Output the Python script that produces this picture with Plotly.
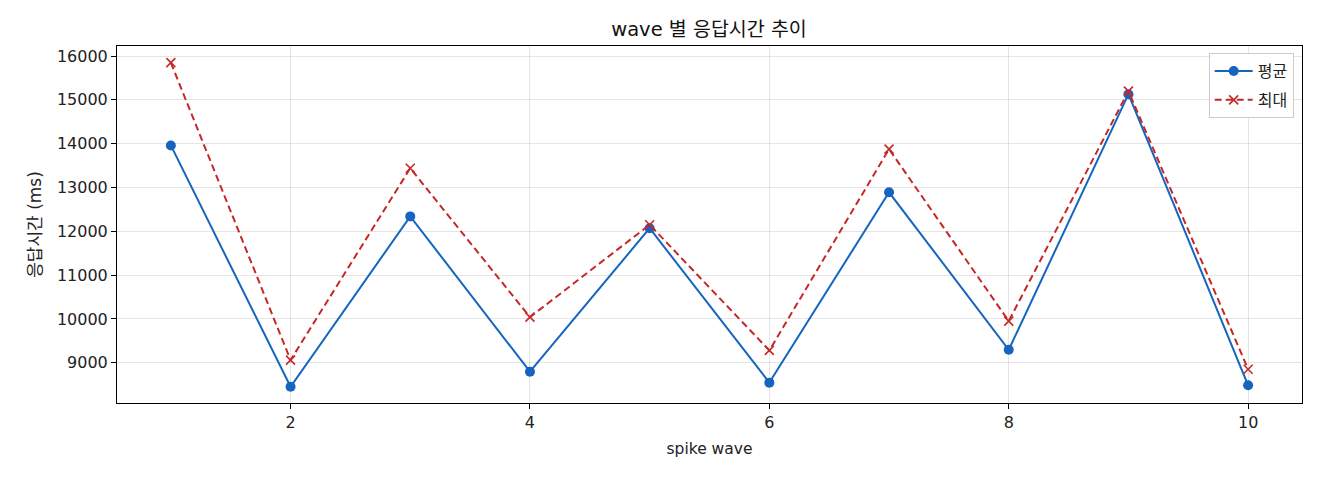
import plotly.graph_objects as go

waves = [1, 2, 3, 4, 5, 6, 7, 8, 9, 10]
avg_ms = [13960, 8450, 12340, 8795, 12070, 8545, 12890, 9295, 15130, 8485]
max_ms = [15850, 9060, 13440, 10040, 12150, 9280, 13875, 9950, 15200, 8850]
x_ticks = [2, 4, 6, 8, 10]
y_ticks = [9000, 10000, 11000, 12000, 13000, 14000, 15000, 16000]

FONT = "DejaVu Sans, Noto Sans CJK KR, sans-serif"
BLUE = "#1565C0"
RED = "#C62828"

fig = go.Figure()
fig.add_trace(go.Scatter(
    x=waves, y=avg_ms, name="평균", mode="lines+markers", legendgroup="avg",
    line=dict(color=BLUE, width=2),
    marker=dict(symbol="circle", size=10, color=BLUE),
))
fig.add_trace(go.Scatter(
    x=waves, y=max_ms, name="최대", mode="lines+markers", legendgroup="max",
    line=dict(color=RED, width=2, dash="7px,4px"),
    marker=dict(symbol="x-thin", size=9, color=RED, line=dict(color=RED, width=1.6)),
))

fig.update_layout(
    width=1320, height=480,
    margin=dict(l=109, r=26, t=38, b=85),
    paper_bgcolor="white", plot_bgcolor="white",
    font=dict(family=FONT, size=15, color="#222222"),
    title=dict(text="wave 별 응답시간 추이", x=701 / 1320, xanchor="center",
               y=1 - 21 / 480, yanchor="middle", font=dict(size=19.5, color="#111111")),
    showlegend=True,
    legend=dict(x=0.993, y=0.98, xanchor="right", yanchor="top",
                bgcolor="rgba(255,255,255,0.9)", bordercolor="#cccccc", borderwidth=1,
                font=dict(size=16), tracegroupgap=5, itemwidth=38),
)
fig.update_xaxes(
    range=[0.55, 10.45], tickvals=x_ticks, ticktext=[str(v) for v in x_ticks],
    showline=True, linecolor="black", linewidth=1, mirror=True,
    ticks="outside", ticklen=5, tickcolor="black", tickfont=dict(size=16),
    showgrid=True, gridcolor="rgba(0,0,0,0.1)", gridwidth=1, zeroline=False,
    title=dict(text="spike wave", font=dict(size=15.5), standoff=11),
)
fig.update_yaxes(
    range=[8080, 16230], tickvals=y_ticks, ticktext=[str(v) for v in y_ticks],
    showline=True, linecolor="black", linewidth=1, mirror=True,
    ticks="outside", ticklen=5, tickcolor="black", tickfont=dict(size=16),
    showgrid=True, gridcolor="rgba(0,0,0,0.1)", gridwidth=1, zeroline=False,
    title=dict(text="응답시간 (ms)", font=dict(size=17), standoff=10),
)

fig.write_html("out.html")
